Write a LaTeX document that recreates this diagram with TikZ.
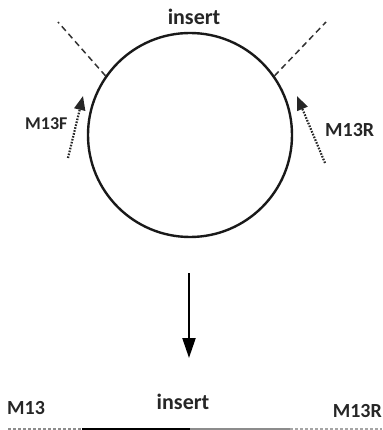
\documentclass[tikz,border=0pt]{standalone}
\usepackage{fontspec}
\setmainfont{Carlito}
\usetikzlibrary{arrows.meta}
\tikzset{
  lbl/.style={font=\bfseries\fontsize{#1}{#1}\selectfont, inner sep=0pt, text=black!85},
  cutline/.style={line width=1.5pt, dash pattern=on 6pt off 4pt, black!80},
  primer/.style={line width=2.2pt, dash pattern=on 1.6pt off 1.4pt, black!85,
    -{Triangle[width=11pt,length=14pt]}},
  ringline/.style={line width=2.4pt, black!90},
}
\begin{document}
\begin{tikzpicture}[x=1pt,y=-1pt]
  \useasboundingbox (0,0) rectangle (382,430);
  % circular vector with the insert
  \node[circle, draw, ringline, minimum size=204pt, inner sep=0pt] (ring) at (190,135) {};
  \node[lbl=22] (ins) at (194,17) {insert};
  % cut sites
  \coordinate (cutL) at (58,22);
  \coordinate (cutR) at (326,22);
  \draw[cutline] (ring.145) -- (cutL);
  \draw[cutline] (ring.35) -- (cutR);
  % primers
  \node[lbl=18, anchor=west] (fwd) at (25,124) {M13F};
  \node[lbl=20, anchor=west] (rev) at (325,130) {M13R};
  \coordinate (fwdS) at (68,158);
  \coordinate (fwdT) at (83,96);
  \coordinate (revS) at (325,163);
  \coordinate (revT) at (297,96);
  \draw[primer] (fwdS) -- (fwdT);
  \draw[primer] (revS) -- (revT);
  % linearised product
  \coordinate (downS) at (189,273);
  \coordinate (downT) at (189,358);
  \draw[line width=2.2pt, -{Triangle[width=13pt,length=20pt]}] (downS) -- (downT);
  \node[lbl=20, anchor=west] (m13) at (7,408) {M13};
  \node[lbl=22] (ins2) at (183,402) {insert};
  \node[lbl=20, anchor=east] (m13r) at (382,411) {M13R};
  \coordinate (a) at (8,429);
  \coordinate (b) at (82,429);
  \coordinate (c) at (190,429);
  \coordinate (d) at (290,429);
  \coordinate (e) at (382,429);
  \draw[line width=2.4pt, black!45, dash pattern=on 3pt off 2pt] (a) -- (b);
  \draw[line width=3pt, black] (b) -- (c);
  \draw[line width=3pt, black!45] (c) -- (d);
  \draw[line width=2.4pt, black!35, dash pattern=on 3pt off 2pt] (d) -- (e);
\end{tikzpicture}
\end{document}
